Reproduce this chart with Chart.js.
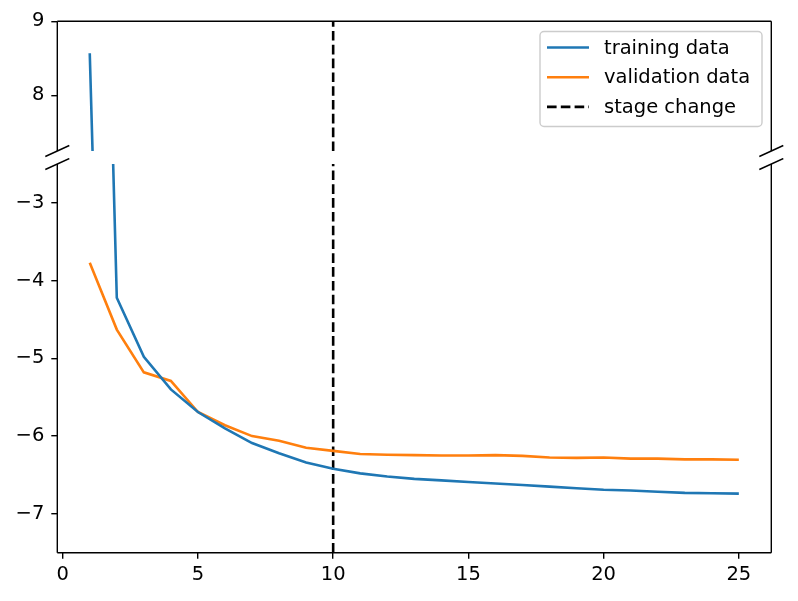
<!DOCTYPE html>
<html>
<head>
<meta charset="utf-8">
<script src="https://cdn.jsdelivr.net/npm/chart.js@4.4.0/dist/chart.umd.min.js"></script>
<style>
html, body { margin: 0; padding: 0; background: #fff; }
#wrap { position: relative; width: 798px; height: 601px; }
#topChart { position: absolute; left: 0; top: 0; }
#bottomChart { position: absolute; left: 0; top: 158px; }
</style>
</head>
<body>
<div id="wrap">
  <canvas id="topChart" width="798" height="158"></canvas>
  <canvas id="bottomChart" width="798" height="443"></canvas>
</div>
<script>
// data
const epochs = [1, 2, 3, 4, 5, 6, 7, 8, 9, 10, 11, 12, 13, 14, 15, 16, 17, 18, 19, 20, 21, 22, 23, 24, 25];
const trainLoss = [8.57, -4.22, -4.98, -5.40, -5.69, -5.90, -6.09, -6.22, -6.34, -6.42, -6.48, -6.52, -6.55,
                   -6.57, -6.59, -6.61, -6.63, -6.65, -6.67, -6.69, -6.70, -6.715, -6.73, -6.735, -6.74];
const valLoss = [-3.77, -4.63, -5.18, -5.29, -5.69, -5.86, -6.00, -6.06, -6.15, -6.19, -6.23, -6.24, -6.245,
                 -6.25, -6.25, -6.245, -6.255, -6.275, -6.28, -6.275, -6.29, -6.29, -6.30, -6.30, -6.305];
const stageChange = 10;

const xTicks = [0, 5, 10, 15, 20, 25];
const yTicksTop = [8, 9];
const yTicksBottom = [-7, -6, -5, -4, -3];
const xRange = [-0.2, 26.2];
const yRangeTop = [7.25, 9];
const yRangeBottom = [-7.5, -2.5];

const FONT_SIZE = 19.5;
Chart.defaults.font.family = 'DejaVu Sans';
Chart.defaults.font.size = FONT_SIZE;
Chart.defaults.color = '#000';

const BLUE = '#1f77b4';
const ORANGE = '#ff7f0e';

function points(ys) {
    return epochs.map((x, i) => ({ x: x, y: ys[i] }));
}

function minus(v) {
    return v < 0 ? '\u2212' + Math.abs(v) : String(v);
}

// spines + broken axis marks, matplotlib style
const frame = {
    id: 'frame',
    afterDraw(chart, args, opts) {
        const { ctx, chartArea: a } = chart;
        ctx.save();
        ctx.strokeStyle = '#000';
        ctx.lineWidth = 1.4;
        ctx.beginPath();
        if (opts.top) { ctx.moveTo(a.left, a.top); ctx.lineTo(a.right, a.top); }
        if (opts.bottom) { ctx.moveTo(a.left, a.bottom); ctx.lineTo(a.right, a.bottom); }
        ctx.moveTo(a.left, a.top); ctx.lineTo(a.left, a.bottom);
        ctx.moveTo(a.right, a.top); ctx.lineTo(a.right, a.bottom);
        ctx.stroke();

        const y = opts.top ? a.bottom : a.top;
        ctx.beginPath();
        [a.left, a.right].forEach(x => {
            ctx.moveTo(x - 12, y + 5.5);
            ctx.lineTo(x + 12, y - 5.5);
        });
        ctx.stroke();
        ctx.restore();
    }
};

// legend box in the upper right of the top panel
const boxLegend = {
    id: 'boxLegend',
    afterDatasetsDraw(chart, args, opts) {
        if (!opts.show) return;
        const ctx = chart.ctx;
        const left = 540, top = 31.5, w = 222, h = 95;
        ctx.save();
        ctx.beginPath();
        ctx.roundRect(left, top, w, h, 4);
        ctx.fillStyle = 'rgba(255,255,255,0.8)';
        ctx.fill();
        ctx.strokeStyle = '#cccccc';
        ctx.lineWidth = 1.4;
        ctx.stroke();

        ctx.font = FONT_SIZE + 'px "DejaVu Sans"';
        ctx.textBaseline = 'middle';
        ctx.fillStyle = '#000';
        chart.data.datasets.forEach((ds, i) => {
            const y = 47.5 + i * 29.7;
            ctx.beginPath();
            ctx.strokeStyle = ds.borderColor;
            ctx.lineWidth = ds.borderWidth;
            ctx.setLineDash(ds.borderDash || []);
            ctx.moveTo(547, y);
            ctx.lineTo(589, y);
            ctx.stroke();
            ctx.setLineDash([]);
            ctx.fillText(ds.label, 604, y + 1);
        });
        ctx.restore();
    }
};

function makeDatasets(yRange) {
    return [
        {
            label: 'training data',
            data: points(trainLoss),
            borderColor: BLUE,
            borderWidth: 2.6,
            pointRadius: 0,
            clip: 0
        },
        {
            label: 'validation data',
            data: points(valLoss),
            borderColor: ORANGE,
            borderWidth: 2.6,
            pointRadius: 0,
            clip: 0
        },
        {
            label: 'stage change',
            data: [{ x: stageChange, y: yRange[0] }, { x: stageChange, y: yRange[1] }],
            borderColor: '#000',
            borderWidth: 2.6,
            borderDash: [9.6, 4.2],
            pointRadius: 0,
            clip: 0
        }
    ];
}

function yAxis(range, ticks) {
    return {
        type: 'linear',
        min: range[0],
        max: range[1],
        afterBuildTicks: s => { s.ticks = ticks.map(v => ({ value: v })); },
        afterFit: s => { s.width = 57.3; s.paddingTop = 0; s.paddingBottom = 0; },
        border: { display: false },
        grid: {
            drawOnChartArea: false,
            color: '#000',
            lineWidth: 1.4,
            tickLength: 6
        },
        ticks: {
            padding: 7,
            callback: v => minus(v)
        }
    };
}

new Chart(document.getElementById('topChart'), {
    type: 'line',
    data: { datasets: makeDatasets(yRangeTop) },
    options: {
        responsive: false,
        animation: false,
        layout: { padding: { top: 21.3, bottom: 7, left: 0, right: 26.7 } },
        plugins: {
            legend: { display: false },
            tooltip: { enabled: false },
            frame: { top: true },
            boxLegend: { show: true }
        },
        scales: {
            x: { type: 'linear', min: xRange[0], max: xRange[1], display: false },
            y: yAxis(yRangeTop, yTicksTop)
        }
    },
    plugins: [frame, boxLegend]
});

new Chart(document.getElementById('bottomChart'), {
    type: 'line',
    data: { datasets: makeDatasets(yRangeBottom) },
    options: {
        responsive: false,
        animation: false,
        layout: { padding: { top: 6, bottom: 0, left: 0, right: 26.7 } },
        plugins: {
            legend: { display: false },
            tooltip: { enabled: false },
            frame: { bottom: true },
            boxLegend: { show: false }
        },
        scales: {
            x: {
                type: 'linear',
                min: xRange[0],
                max: xRange[1],
                afterBuildTicks: s => { s.ticks = xTicks.map(v => ({ value: v })); },
                afterFit: s => { s.height = 48.3; s.paddingLeft = 0; s.paddingRight = 0; },
                border: { display: false },
                grid: {
                    drawOnChartArea: false,
                    color: '#000',
                    lineWidth: 1.4,
                    tickLength: 6
                },
                ticks: {
                    padding: 5,
                    maxRotation: 0,
                    callback: v => minus(v)
                }
            },
            y: yAxis(yRangeBottom, yTicksBottom)
        }
    },
    plugins: [frame, boxLegend]
});
</script>
</body>
</html>
